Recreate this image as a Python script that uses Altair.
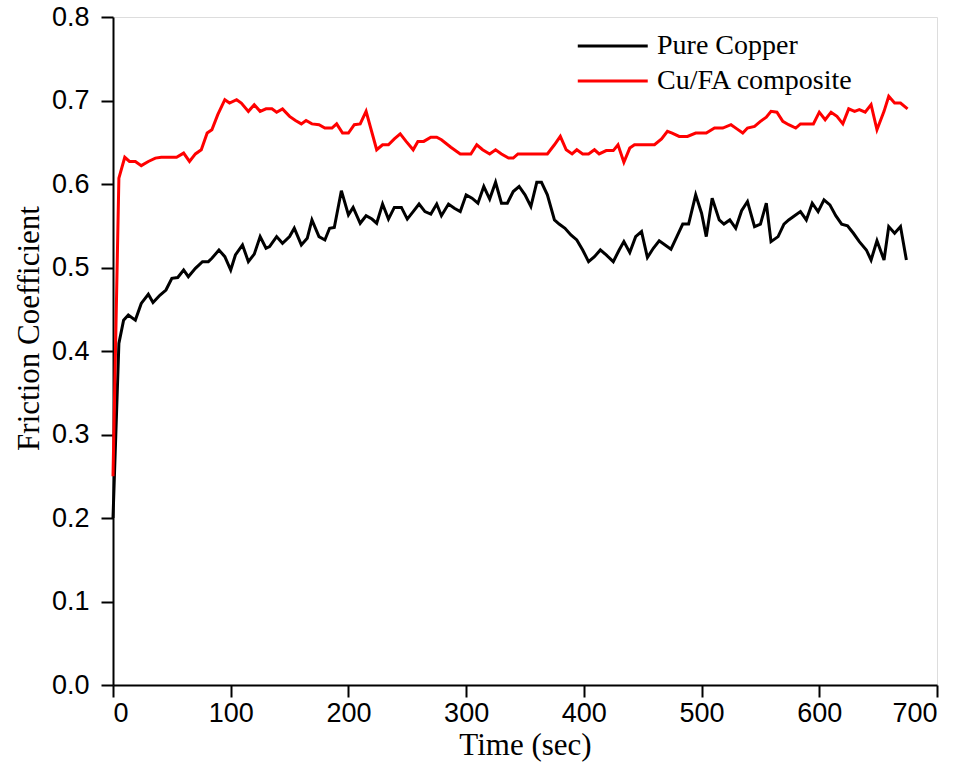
import altair as alt
import pandas as pd

# Pure Copper
t_cu = [0, 5, 9, 13, 19, 24, 30, 34, 40, 45, 50, 55, 60, 64, 70, 76, 81, 84, 90, 95,
        100, 104, 110, 115, 120, 125, 130, 133, 139, 144, 150, 154, 160, 165, 169, 175, 180, 184, 188, 194,
        200, 204, 210, 215, 220, 224, 229, 234, 239, 245, 250, 255, 260, 265, 270, 275, 279, 285, 290, 295,
        300, 305, 310, 315, 320, 325, 330, 335, 340, 345, 350, 355, 360, 364, 369, 375, 379, 384, 389, 394,
        399, 404, 409, 414, 419, 425, 430, 434, 439, 444, 449, 454, 459, 464, 469, 474, 479, 484, 489, 495,
        500, 504, 509, 515, 519, 524, 529, 534, 539, 545, 550, 555, 559, 565, 570, 574, 579, 584, 589, 594,
        599, 604, 609, 614, 619, 624, 629, 634, 640, 644, 649, 655, 659, 664, 669, 674]
v_cu = [0.200, 0.409, 0.437, 0.443, 0.437, 0.457, 0.468, 0.458, 0.467, 0.473, 0.487, 0.488, 0.497, 0.489, 0.499, 0.507, 0.507, 0.511, 0.521, 0.513,
        0.497, 0.515, 0.527, 0.507, 0.516, 0.537, 0.523, 0.525, 0.537, 0.529, 0.537, 0.547, 0.527, 0.535, 0.557, 0.537, 0.533, 0.547, 0.548, 0.592,
        0.563, 0.572, 0.553, 0.562, 0.558, 0.553, 0.576, 0.558, 0.572, 0.572, 0.558, 0.567, 0.576, 0.567, 0.564, 0.576, 0.562, 0.576, 0.571, 0.567,
        0.587, 0.583, 0.577, 0.597, 0.582, 0.602, 0.577, 0.577, 0.591, 0.597, 0.587, 0.573, 0.602, 0.602, 0.587, 0.557, 0.552, 0.547, 0.539, 0.533,
        0.521, 0.507, 0.513, 0.521, 0.515, 0.507, 0.521, 0.531, 0.518, 0.537, 0.543, 0.512, 0.523, 0.532, 0.527, 0.522, 0.537, 0.552, 0.552, 0.587,
        0.565, 0.537, 0.583, 0.557, 0.552, 0.557, 0.547, 0.568, 0.579, 0.549, 0.552, 0.577, 0.531, 0.537, 0.552, 0.557, 0.562, 0.567, 0.557, 0.577,
        0.567, 0.581, 0.575, 0.562, 0.552, 0.550, 0.541, 0.531, 0.521, 0.509, 0.532, 0.509, 0.549, 0.541, 0.549, 0.509]

# Cu/FA composite
t_fa = [0, 5, 10, 14, 19, 24, 30, 36, 41, 54, 60, 65, 70, 75, 80, 84, 89, 95, 99, 105,
        109, 115, 120, 125, 130, 135, 139, 144, 150, 155, 160, 164, 169, 175, 180, 186, 190, 195, 200, 205,
        210, 215, 224, 229, 234, 239, 244, 249, 255, 259, 264, 270, 275, 279, 287, 295, 304, 309, 314, 320,
        325, 330, 336, 340, 344, 369, 375, 380, 385, 390, 394, 399, 404, 409, 413, 419, 425, 429, 434, 439,
        443, 449, 460, 466, 471, 475, 481, 488, 495, 504, 511, 518, 525, 530, 535, 539, 545, 550, 555, 559,
        564, 569, 574, 580, 584, 595, 600, 605, 610, 615, 620, 625, 630, 634, 639, 644, 649, 655, 659, 664,
        669, 675]
v_fa = [0.250, 0.607, 0.632, 0.627, 0.627, 0.622, 0.627, 0.631, 0.632, 0.632, 0.637, 0.627, 0.636, 0.641, 0.661, 0.665, 0.683, 0.701, 0.697, 0.701,
        0.697, 0.687, 0.695, 0.687, 0.690, 0.690, 0.686, 0.690, 0.681, 0.676, 0.672, 0.676, 0.672, 0.671, 0.667, 0.667, 0.672, 0.661, 0.661, 0.671,
        0.672, 0.687, 0.641, 0.647, 0.647, 0.654, 0.660, 0.651, 0.641, 0.651, 0.651, 0.656, 0.656, 0.653, 0.644, 0.636, 0.636, 0.647, 0.641, 0.636,
        0.641, 0.636, 0.631, 0.631, 0.636, 0.636, 0.647, 0.657, 0.641, 0.636, 0.641, 0.636, 0.636, 0.641, 0.636, 0.640, 0.640, 0.647, 0.626, 0.643,
        0.647, 0.647, 0.647, 0.654, 0.663, 0.661, 0.657, 0.657, 0.661, 0.661, 0.667, 0.667, 0.671, 0.666, 0.661, 0.667, 0.669, 0.675, 0.680, 0.687,
        0.686, 0.675, 0.671, 0.667, 0.672, 0.672, 0.686, 0.677, 0.686, 0.681, 0.672, 0.690, 0.687, 0.689, 0.686, 0.695, 0.665, 0.687, 0.705, 0.697,
        0.697, 0.690]

series_names = ["Pure Copper", "Cu/FA composite"]
series_colors = ["#000000", "#ff0000"]

df = pd.concat([
    pd.DataFrame({"time": t_cu, "cof": v_cu, "series": series_names[0], "order": range(len(t_cu))}),
    pd.DataFrame({"time": t_fa, "cof": v_fa, "series": series_names[1], "order": range(len(t_fa))}),
])

serif = "Liberation Serif"
sans = "Liberation Sans"

chart = alt.Chart(df).mark_line(strokeWidth=3, strokeJoin="miter").encode(
    x=alt.X("time:Q",
            scale=alt.Scale(domain=[0, 700], nice=False, zero=False),
            axis=alt.Axis(title="Time (sec)", values=[0, 100, 200, 300, 400, 500, 600, 700],
                          format="d", grid=False, domainColor="black", domainWidth=2,
                          tickColor="black", tickWidth=2, tickSize=12,
                          labelFont=sans, labelFontSize=27, labelColor="black", labelPadding=3,
                          titleFont=serif, titleFontSize=31, titleFontWeight="normal",
                          titleColor="black", titlePadding=4)),
    y=alt.Y("cof:Q",
            scale=alt.Scale(domain=[0, 0.8], nice=False),
            axis=alt.Axis(title="Friction Coefficient",
                          values=[0, 0.1, 0.2, 0.3, 0.4, 0.5, 0.6, 0.7, 0.8],
                          format=".1f", grid=False, domainColor="black", domainWidth=2,
                          tickColor="black", tickWidth=2, tickSize=12,
                          labelFont=sans, labelFontSize=27, labelColor="black", labelPadding=12,
                          titleFont=serif, titleFontSize=31, titleFontWeight="normal",
                          titleColor="black", titlePadding=6, titleY=311)),
    color=alt.Color("series:N",
                    scale=alt.Scale(domain=series_names, range=series_colors),
                    legend=alt.Legend(title=None, orient="none", legendX=512, legendY=15,
                                      symbolType="M-7,0H1", symbolSize=306, symbolStrokeWidth=3,
                                      labelFont=serif, labelFontSize=28, labelColor="black",
                                      labelLimit=400, rowPadding=7, labelOffset=4)),
    order="order:Q",
).properties(
    width=824,
    height=668,
    padding={"left": 113, "top": 17, "right": 27, "bottom": 86},
    autosize=alt.AutoSizeParams(type="none"),
).configure_view(
    stroke="black", strokeWidth=2
).configure(background="white")

chart.save("out.html", embed_options={"renderer": "svg", "actions": False})
